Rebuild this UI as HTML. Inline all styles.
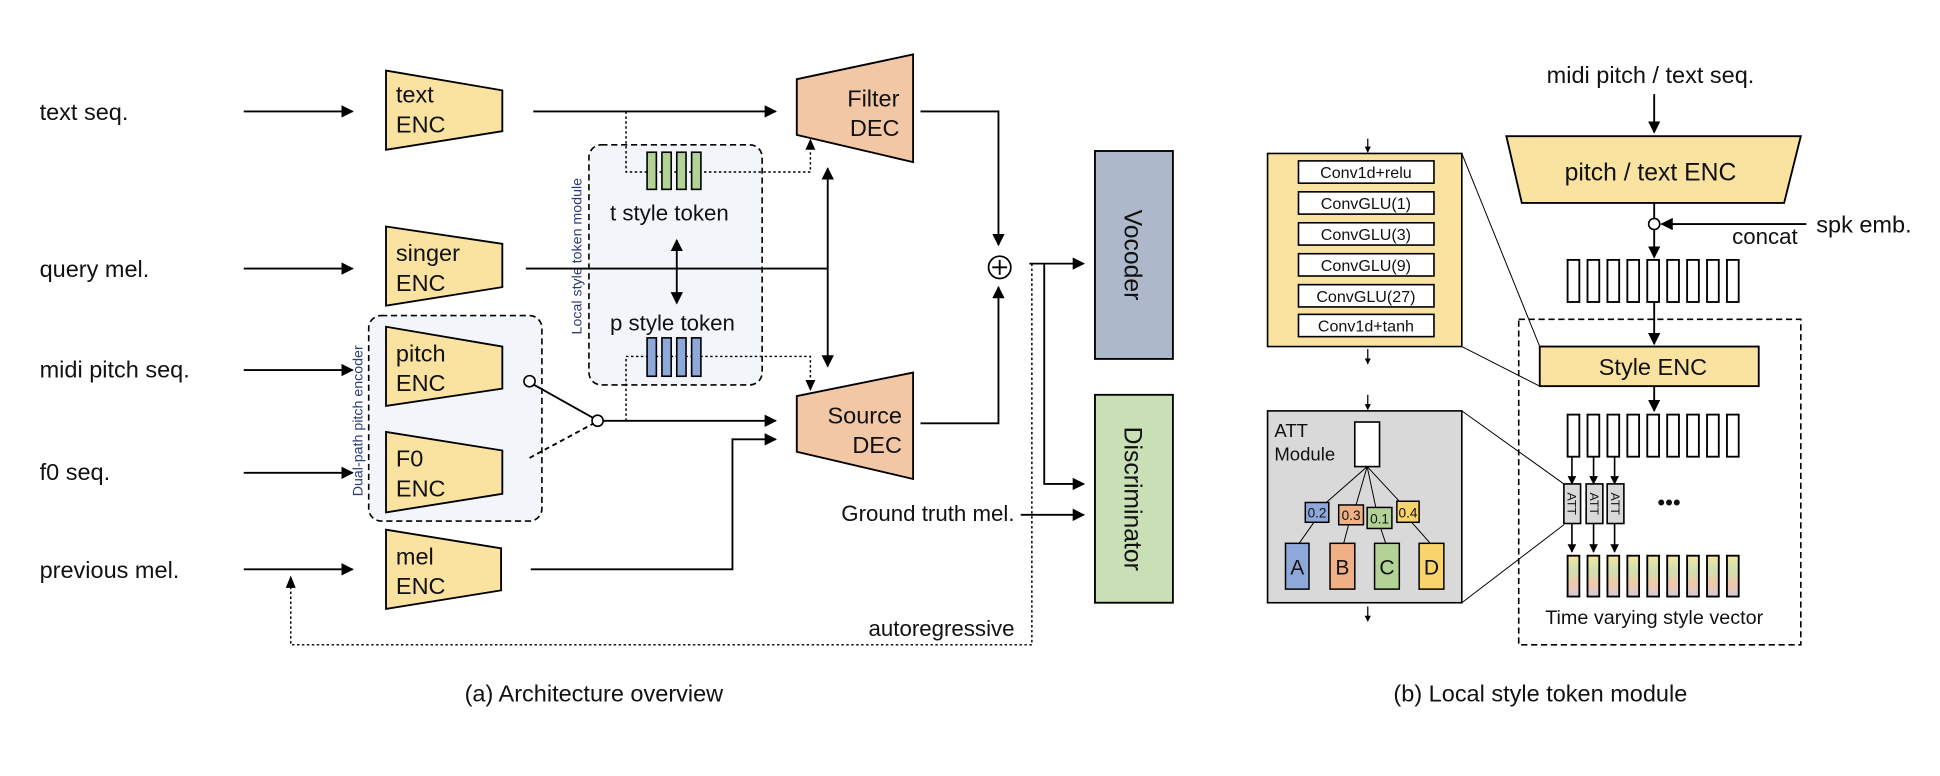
<!DOCTYPE html>
<html><head><meta charset="utf-8"><style>
html,body{margin:0;padding:0;background:#fff;}
svg{display:block;}
text{font-family:"Liberation Sans","NanumGothic",sans-serif;fill:#111;}
</style></head><body>
<svg width="1940" height="776" viewBox="0 0 1568 627" preserveAspectRatio="none" xmlns="http://www.w3.org/2000/svg">
<defs>
<marker id="ah" viewBox="0 0 10 10" refX="9" refY="5" markerWidth="7" markerHeight="7" markerUnits="userSpaceOnUse" orient="auto-start-reverse"><path d="M0,0 L10,5 L0,10 z" fill="#000"/></marker>
<marker id="ah2" viewBox="0 0 10 10" refX="9" refY="5" markerWidth="10" markerHeight="10" markerUnits="userSpaceOnUse" orient="auto-start-reverse"><path d="M0,0 L10,5 L0,10 z" fill="#000"/></marker>
<marker id="ahs" viewBox="0 0 10 10" refX="9" refY="5" markerWidth="5" markerHeight="5" markerUnits="userSpaceOnUse" orient="auto"><path d="M0,0 L10,5 L0,10 z" fill="#000"/></marker>
<linearGradient id="gv" x1="0" y1="0" x2="0" y2="1">
<stop offset="0" stop-color="#f7e6a0"/><stop offset="0.35" stop-color="#cfe0b0"/><stop offset="0.7" stop-color="#f2c8a8"/><stop offset="1" stop-color="#cfcbe0"/></linearGradient>
</defs>
<g stroke="#000" stroke-width="1.5" fill="none">
<!-- left labels -->
</g>
<g font-size="19">
<text x="32" y="97">text seq.</text>
<text x="32" y="224">query mel.</text>
<text x="32" y="305">midi pitch seq.</text>
<text x="32" y="388">f0 seq.</text>
<text x="32" y="467">previous mel.</text>
</g>
<g stroke="#000" stroke-width="1.5" marker-end="url(#ah2)">
<line x1="197" y1="90" x2="285" y2="90"/>
<line x1="197" y1="217" x2="285" y2="217"/>
<line x1="197" y1="299" x2="285" y2="299"/>
<line x1="197" y1="382" x2="285" y2="382"/>
<line x1="197" y1="460" x2="285" y2="460"/>
</g>
<!-- dual path box -->
<rect x="298" y="255" width="140" height="166" rx="10" fill="#f2f6fa" stroke="#000" stroke-width="1.3" stroke-dasharray="5,3"/>
<text transform="translate(293,340) rotate(-90)" font-size="11.5" text-anchor="middle" style="fill:#2b3a7a">Dual-path pitch encoder</text>
<!-- local style token box -->
<rect x="476" y="117" width="140" height="194" rx="10" fill="#f2f6fa" stroke="#000" stroke-width="1.3" stroke-dasharray="5,3"/>
<text transform="translate(470,207) rotate(-90)" font-size="11.5" text-anchor="middle" style="fill:#2b3a7a">Local style token module</text>
<!-- encoders -->
<g fill="#fae3a0" stroke="#000" stroke-width="1.5">
<polygon points="312,57 406,73 406,106 312,121"/>
<polygon points="312,183 406,197 406,232 312,247"/>
<polygon points="312,264 406,280 406,314 312,328"/>
<polygon points="312,349 406,364 406,399 312,414"/>
<polygon points="312,428 405,443 405,477 312,492"/>
</g>
<g font-size="19">
<text x="320" y="83">text</text><text x="320" y="107">ENC</text>
<text x="320" y="211">singer</text><text x="320" y="235">ENC</text>
<text x="320" y="292">pitch</text><text x="320" y="316">ENC</text>
<text x="320" y="377">F0</text><text x="320" y="401">ENC</text>
<text x="320" y="456">mel</text><text x="320" y="480">ENC</text>
</g>
<!-- decoders -->
<g fill="#f2c7a6" stroke="#000" stroke-width="1.5">
<polygon points="644,64 738,44 738,131 644,109"/>
<polygon points="644,320 738,301 738,387 644,365"/>
</g>
<g font-size="19" text-anchor="end">
<text x="727" y="86">Filter</text><text x="727" y="110">DEC</text>
<text x="729" y="342">Source</text><text x="729" y="366">DEC</text>
</g>
<!-- dotted connectors -->
<g stroke="#000" stroke-width="1.2" stroke-dasharray="2,2" fill="none">
<polyline points="506,90 506,139 655,139 655,121"/>
<polyline points="506,340 506,288 655,288 655,307"/>
<polyline points="834,213 834,521 235,521 235,470"/>
</g>
<g fill="#000">
<path d="M651,121 L659,121 L655,112 z"/>
<path d="M651,307 L659,307 L655,316 z"/>
<path d="M231,475 L239,475 L235,465 z"/>
</g>
<!-- tokens -->
<g stroke="#000" stroke-width="1.3">
<rect x="523" y="123" width="7.5" height="30" fill="#b3d296"/>
<rect x="535" y="123" width="7.5" height="30" fill="#b3d296"/>
<rect x="547" y="123" width="7.5" height="30" fill="#b3d296"/>
<rect x="559" y="123" width="7.5" height="30" fill="#b3d296"/>
<rect x="523" y="273" width="7.5" height="31" fill="#8fa8da"/>
<rect x="535" y="273" width="7.5" height="31" fill="#8fa8da"/>
<rect x="547" y="273" width="7.5" height="31" fill="#8fa8da"/>
<rect x="559" y="273" width="7.5" height="31" fill="#8fa8da"/>
</g>
<g font-size="18"><text x="493" y="178">t style token</text><text x="493" y="267">p style token</text></g>
<!-- solid connectors -->
<g stroke="#000" stroke-width="1.5" fill="none">
<line x1="431" y1="90" x2="627" y2="90" marker-end="url(#ah2)"/>
<line x1="425" y1="217" x2="669" y2="217"/>
<line x1="669" y1="136" x2="669" y2="296" marker-end="url(#ah2)" marker-start="url(#ah2)"/>
<line x1="547" y1="194" x2="547" y2="245" marker-end="url(#ah2)" marker-start="url(#ah2)"/>
<line x1="430" y1="310" x2="480" y2="338"/>
<line x1="428" y1="370" x2="480" y2="342" stroke-dasharray="4,3"/>
<line x1="487" y1="340" x2="627" y2="340" marker-end="url(#ah2)"/>
<polyline points="429,460 592,460 592,355 627,355" marker-end="url(#ah2)"/>
<polyline points="744,90 807,90 807,198" marker-end="url(#ah2)"/>
<polyline points="744,342 807,342 807,232" marker-end="url(#ah2)"/>
<polyline points="832,213 876,213" marker-end="url(#ah2)"/>
<polyline points="844,213 844,391 876,391" marker-end="url(#ah2)"/>
<line x1="825" y1="416" x2="876" y2="416" marker-end="url(#ah2)"/>
</g>
<circle cx="428" cy="308" r="4.5" fill="#fff" stroke="#000" stroke-width="1.3"/>
<circle cx="483" cy="340" r="4.5" fill="#fff" stroke="#000" stroke-width="1.3"/>
<circle cx="808" cy="216" r="9" fill="#fff" stroke="#000" stroke-width="1.4"/>
<line x1="802" y1="216" x2="814" y2="216" stroke="#000" stroke-width="1.5"/>
<line x1="808" y1="210" x2="808" y2="222" stroke="#000" stroke-width="1.5"/>
<!-- vocoder / discriminator -->
<rect x="885" y="122" width="63" height="168" fill="#adb9ca" stroke="#000" stroke-width="1.5"/>
<rect x="885" y="319" width="63" height="168" fill="#c9dfb5" stroke="#000" stroke-width="1.5"/>
<text transform="translate(909,206) rotate(90)" font-size="20" text-anchor="middle">Vocoder</text>
<text transform="translate(909,403) rotate(90)" font-size="20" text-anchor="middle">Discriminator</text>
<g font-size="18" text-anchor="end">
<text x="820" y="421">Ground truth mel.</text>
<text x="820" y="514">autoregressive</text>
</g>
<g font-size="19" text-anchor="middle">
<text x="480" y="567">(a) Architecture overview</text>
<text x="1245" y="567">(b) Local style token module</text>
</g>
<!-- right part: conv stack -->
<rect x="1024.5" y="124" width="157" height="156" fill="#fae3a0" stroke="#000" stroke-width="1.3"/>
<g fill="#fff" stroke="#000" stroke-width="1.3">
<rect x="1049.5" y="130" width="109.5" height="18"/>
<rect x="1049.5" y="155" width="109.5" height="18"/>
<rect x="1049.5" y="180" width="109.5" height="18"/>
<rect x="1049.5" y="205" width="109.5" height="18"/>
<rect x="1049.5" y="230" width="109.5" height="18"/>
<rect x="1049.5" y="254" width="109.5" height="18"/>
</g>
<g font-size="13" text-anchor="middle">
<text x="1104" y="144">Conv1d+relu</text>
<text x="1104" y="169">ConvGLU(1)</text>
<text x="1104" y="194">ConvGLU(3)</text>
<text x="1104" y="219">ConvGLU(9)</text>
<text x="1104" y="244">ConvGLU(27)</text>
<text x="1104" y="268">Conv1d+tanh</text>
</g>
<g stroke="#000" stroke-width="1" marker-end="url(#ahs)">
<line x1="1105.5" y1="112" x2="1105.5" y2="123"/>
<line x1="1105.5" y1="282" x2="1105.5" y2="294"/>
<line x1="1105.5" y1="319" x2="1105.5" y2="331"/>
<line x1="1105.5" y1="490" x2="1105.5" y2="502"/>
</g>
<!-- ATT module -->
<rect x="1024.5" y="332" width="157" height="155" fill="#d9d9d9" stroke="#000" stroke-width="1.3"/>
<text x="1030" y="353" font-size="15">ATT</text>
<text x="1030" y="372" font-size="15">Module</text>
<rect x="1095" y="341" width="20" height="36" fill="#fff" stroke="#000" stroke-width="1.3"/>
<g stroke="#000" stroke-width="0.8">
<line x1="1105" y1="377" x2="1072" y2="406"/>
<line x1="1105" y1="377" x2="1096" y2="408"/>
<line x1="1105" y1="377" x2="1112" y2="410"/>
<line x1="1105" y1="377" x2="1131" y2="405"/>
<line x1="1062" y1="422" x2="1050" y2="439"/>
<line x1="1090" y1="424" x2="1086" y2="439"/>
<line x1="1116" y1="427" x2="1120" y2="439"/>
<line x1="1141" y1="422" x2="1156" y2="439"/>
</g>
<g stroke="#000" stroke-width="1.2">
<rect x="1055" y="406" width="19" height="16" fill="#8fa8da"/>
<rect x="1082" y="408" width="20" height="16" fill="#f0b086"/>
<rect x="1105" y="410" width="20" height="17" fill="#b3d296"/>
<rect x="1129" y="405" width="18" height="17" fill="#f9d46a"/>
<rect x="1039" y="439" width="19" height="37" fill="#8fa8da"/>
<rect x="1075" y="439" width="20" height="37" fill="#f0b086"/>
<rect x="1111" y="439" width="20" height="37" fill="#b3d296"/>
<rect x="1147" y="439" width="20" height="37" fill="#f9d46a"/>
</g>
<g font-size="11" text-anchor="middle">
<text x="1064.5" y="418">0.2</text><text x="1092" y="420">0.3</text><text x="1115" y="423">0.1</text><text x="1138" y="418">0.4</text>
</g>
<g font-size="17" text-anchor="middle">
<text x="1048.5" y="464">A</text><text x="1085" y="464">B</text><text x="1121" y="464">C</text><text x="1157" y="464">D</text>
</g>
<!-- zoom lines -->
<g stroke="#000" stroke-width="0.8">
<line x1="1181.5" y1="124" x2="1244.5" y2="280"/>
<line x1="1181.5" y1="280" x2="1244.5" y2="312"/>
<line x1="1181.5" y1="332" x2="1264" y2="391"/>
<line x1="1181.5" y1="487" x2="1264" y2="424"/>
</g>
<!-- right column -->
<text x="1334" y="67" font-size="19" text-anchor="middle">midi pitch / text seq.</text>
<polygon points="1217.5,110 1455.5,110 1442,164 1230,164" fill="#fae3a0" stroke="#000" stroke-width="1.5"/>
<text x="1334" y="146" font-size="20" text-anchor="middle">pitch / text ENC</text>
<g stroke="#000" stroke-width="1.5" fill="none">
<line x1="1337" y1="76" x2="1337" y2="107" marker-end="url(#ah2)"/>
<line x1="1337" y1="164" x2="1337" y2="177"/>
<line x1="1460" y1="181" x2="1343" y2="181" marker-end="url(#ah2)"/>
<line x1="1337" y1="186" x2="1337" y2="208" marker-end="url(#ah2)"/>
<line x1="1337" y1="244" x2="1337" y2="278" marker-end="url(#ah2)"/>
<line x1="1337" y1="312" x2="1337" y2="332" marker-end="url(#ah2)"/>
</g>
<circle cx="1337" cy="181" r="4.5" fill="#fff" stroke="#000" stroke-width="1.3"/>
<text x="1468" y="188" font-size="19">spk emb.</text>
<text x="1453" y="197" font-size="18" text-anchor="end">concat</text>
<rect x="1227.5" y="258" width="228" height="263" fill="none" stroke="#000" stroke-width="1.3" stroke-dasharray="5,3"/>
<g fill="#fff" stroke="#000" stroke-width="1.5">
<rect x="1267" y="210" width="9.5" height="34"/><rect x="1283.1" y="210" width="9.5" height="34"/><rect x="1299.2" y="210" width="9.5" height="34"/><rect x="1315.3" y="210" width="9.5" height="34"/><rect x="1331.4" y="210" width="9.5" height="34"/><rect x="1347.5" y="210" width="9.5" height="34"/><rect x="1363.6" y="210" width="9.5" height="34"/><rect x="1379.7" y="210" width="9.5" height="34"/><rect x="1395.8" y="210" width="9.5" height="34"/>
<rect x="1267" y="335" width="9.5" height="34"/><rect x="1283.1" y="335" width="9.5" height="34"/><rect x="1299.2" y="335" width="9.5" height="34"/><rect x="1315.3" y="335" width="9.5" height="34"/><rect x="1331.4" y="335" width="9.5" height="34"/><rect x="1347.5" y="335" width="9.5" height="34"/><rect x="1363.6" y="335" width="9.5" height="34"/><rect x="1379.7" y="335" width="9.5" height="34"/><rect x="1395.8" y="335" width="9.5" height="34"/>
</g>
<rect x="1244.5" y="280" width="177" height="32" fill="#fae3a0" stroke="#000" stroke-width="1.5"/>
<text x="1336" y="303" font-size="19" text-anchor="middle">Style ENC</text>
<g stroke="#000" stroke-width="1.3" marker-end="url(#ah)">
<line x1="1270.5" y1="369" x2="1270.5" y2="391"/>
<line x1="1288" y1="369" x2="1288" y2="391"/>
<line x1="1305" y1="369" x2="1305" y2="391"/>
<line x1="1270.5" y1="423" x2="1270.5" y2="446"/>
<line x1="1288" y1="423" x2="1288" y2="446"/>
<line x1="1305" y1="423" x2="1305" y2="446"/>
</g>
<g fill="#d9d9d9" stroke="#000" stroke-width="1.3">
<rect x="1264" y="391" width="13.5" height="32"/>
<rect x="1282" y="391" width="13.5" height="32"/>
<rect x="1299" y="391" width="13.5" height="32"/>
</g>
<g font-size="10" text-anchor="middle">
<text transform="translate(1267,407) rotate(90)">ATT</text>
<text transform="translate(1285,407) rotate(90)">ATT</text>
<text transform="translate(1302,407) rotate(90)">ATT</text>
</g>
<text x="1349" y="412" font-size="18" text-anchor="middle">•••</text>
<g fill="url(#gv)" stroke="#000" stroke-width="1.5">
<rect x="1267" y="449" width="9.5" height="33"/><rect x="1283.1" y="449" width="9.5" height="33"/><rect x="1299.2" y="449" width="9.5" height="33"/><rect x="1315.3" y="449" width="9.5" height="33"/><rect x="1331.4" y="449" width="9.5" height="33"/><rect x="1347.5" y="449" width="9.5" height="33"/><rect x="1363.6" y="449" width="9.5" height="33"/><rect x="1379.7" y="449" width="9.5" height="33"/><rect x="1395.8" y="449" width="9.5" height="33"/>
</g>
<text x="1337" y="504" font-size="16" text-anchor="middle">Time varying style vector</text>
</svg>
</body></html>
